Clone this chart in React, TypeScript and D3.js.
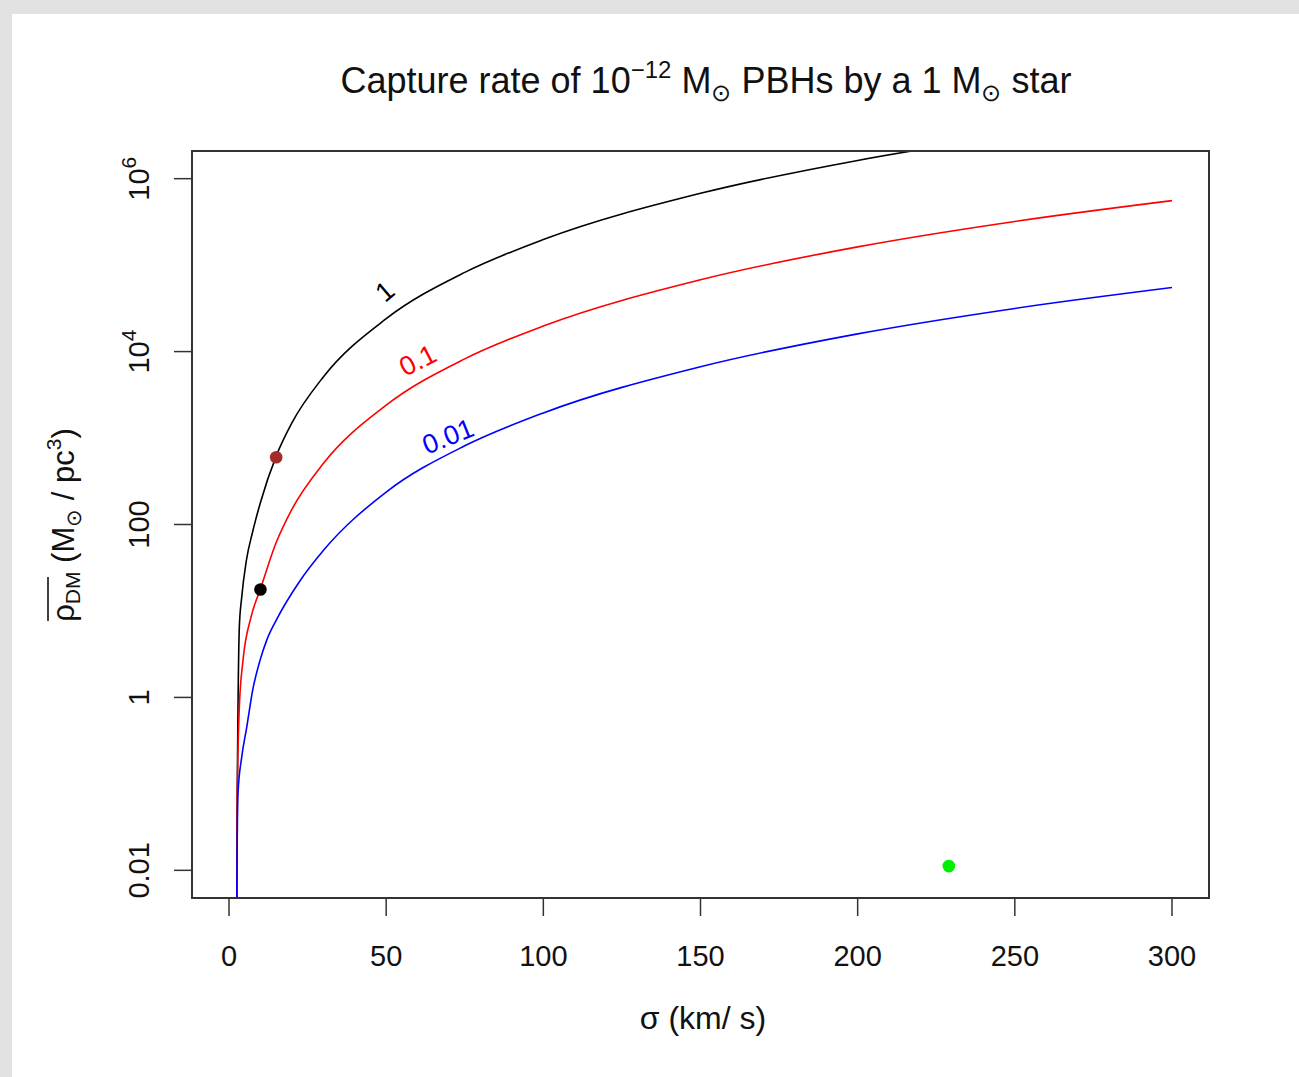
import React from "react";
import * as d3 from "d3";

// ---- data ----
const sigmaBlack = [2.4, 2.45, 2.6, 2.86, 3.28, 4, 5.5, 7.5, 10, 15, 20, 30, 50, 75, 100, 150, 200, 250, 300];
const rhoBlack = [0.0001, 0.0032, 0.063, 0.77, 6.5, 14, 38, 82, 180, 618, 1496, 5080, 23990, 82400, 197700, 677000, 1626000, 3200000, 5570000];

const sigmaRed = [2.4, 2.45, 2.64, 3.28, 4.45, 7, 10, 15, 20, 30, 50, 75, 100, 150, 200, 250, 300];
const rhoRed = [0.0001, 0.0032, 0.078, 0.77, 2.68, 8.5, 18.0, 61.8, 150, 508, 2399, 8240, 19770, 67700, 162600, 320000, 557000];

const sigmaBlue = [2.4, 2.45, 2.86, 4, 5.63, 7.5, 9.86, 12, 15, 22.6, 30, 50, 75, 100, 150, 200, 250, 300];
const rhoBlue = [0.0001, 0.0032, 0.078, 0.2, 0.45, 1.2, 2.68, 4.6, 7.8, 22.4, 50, 237, 813, 1950, 6680, 16030, 31550, 55000];

const seriesColors = ["black", "red", "blue"];
const seriesLabels = ["1", "0.1", "0.01"];
// label centre (sigma, rho) and angle
const labelSigma = [49.6, 60.1, 69.7];
const labelRho = [49400, 7870, 1040];
const labelAngle = [-40, -27, -22];

const pointSigma = [10, 15, 229];
const pointRho = [17.7, 600, 0.0112];
const pointColors = ["black", "#a52a2a", "#00ee00"];

const xTicks = [0, 50, 100, 150, 200, 250, 300];
const yTicks = [0.01, 1, 100, 1e4, 1e6];
const yTickBase = ["0.01", "1", "100", "10", "10"];
const yTickSup = ["", "", "", "4", "6"];

const W = 1299;
const H = 1077;
const L = 192, R = 1209, T = 151, B = 898;
const FONT = "'Liberation Sans', Arial, Helvetica, sans-serif";

export default function App() {
  const x = d3.scaleLinear().domain([-12, 312]).range([191.3, 1209.7]);
  const y = d3.scaleLog().domain([Math.pow(10, -2.32), Math.pow(10, 6.32)]).range([B, T]);

  const line = d3
    .line<[number, number]>()
    .x((d) => x(d[0]))
    .y((d) => y(d[1]))
    .curve(d3.curveMonotoneX);

  const series = [
    d3.zip(sigmaBlack, rhoBlack) as [number, number][],
    d3.zip(sigmaRed, rhoRed) as [number, number][],
    d3.zip(sigmaBlue, rhoBlue) as [number, number][],
  ];

  return (
    <svg
      width={W}
      height={H}
      style={{ position: "absolute", left: 0, top: 0, display: "block" }}
      fontFamily={FONT}
    >
      <defs>
        <clipPath id="plotclip">
          <rect x={L} y={T} width={R - L} height={B - T} />
        </clipPath>
      </defs>
      <rect x={0} y={0} width={W} height={H} fill="#e2e2e2" />
      <rect x={12} y={14} width={W - 12} height={H - 14} fill="#ffffff" />

      {/* title */}
      <text x={706} y={93} textAnchor="middle" fontSize={36} fill="#111">
        <tspan>Capture rate of 10</tspan>
        <tspan dy={-15} fontSize={24}>−12</tspan>
        <tspan dy={15}> M</tspan>
        <tspan dy={8} fontSize={24}>⊙</tspan>
        <tspan dy={-8}> PBHs by a 1 M</tspan>
        <tspan dy={8} fontSize={24}>⊙</tspan>
        <tspan dy={-8}> star</tspan>
      </text>

      {/* curves */}
      <g clipPath="url(#plotclip)">
        {series.map((s, i) => (
          <path key={i} d={line(s) || ""} fill="none" stroke={seriesColors[i]} strokeWidth={1.6} />
        ))}
      </g>

      {/* contour labels */}
      {seriesLabels.map((lab, i) => {
        const px = x(labelSigma[i]);
        const py = y(labelRho[i]);
        return (
          <text
            key={lab}
            x={px}
            y={py}
            textAnchor="middle"
            dominantBaseline="central"
            fontSize={27}
            fill={seriesColors[i]}
            transform={`rotate(${labelAngle[i]},${px},${py})`}
          >
            {lab}
          </text>
        );
      })}

      {/* points */}
      {pointSigma.map((s, i) => (
        <circle key={i} cx={x(s)} cy={y(pointRho[i])} r={6.3} fill={pointColors[i]} />
      ))}

      {/* box */}
      <rect x={L} y={T} width={R - L} height={B - T} fill="none" stroke="#333" strokeWidth={2} />

      {/* x axis */}
      <line x1={x(0)} x2={x(300)} y1={B} y2={B} stroke="#333" strokeWidth={2} />
      {xTicks.map((t) => (
        <g key={t}>
          <line x1={x(t)} x2={x(t)} y1={B} y2={B + 18} stroke="#333" strokeWidth={1.5} />
          <text x={x(t)} y={966} textAnchor="middle" fontSize={29} fill="#111">
            {t}
          </text>
        </g>
      ))}
      <text x={703} y={1029} textAnchor="middle" fontSize={32} fill="#111">
        σ (km/ s)
      </text>

      {/* y axis */}
      {yTicks.map((t, i) => {
        const py = y(t);
        return (
          <g key={i}>
            <line x1={L - 18} x2={L} y1={py} y2={py} stroke="#333" strokeWidth={1.5} />
            <text
              x={149}
              y={py}
              textAnchor="middle"
              fontSize={29}
              fill="#111"
              transform={`rotate(-90,149,${py})`}
            >
              <tspan>{yTickBase[i]}</tspan>
              {yTickSup[i] ? (
                <tspan dy={-13} fontSize={21}>
                  {yTickSup[i]}
                </tspan>
              ) : null}
            </text>
          </g>
        );
      })}

      {/* y title */}
      <g transform="translate(74,525) rotate(-90)">
        <text x={0} y={0} textAnchor="middle" fontSize={31} fill="#111">
          <tspan>ρ</tspan>
          <tspan dy={6} fontSize={21}>DM</tspan>
          <tspan dy={-6}> (M</tspan>
          <tspan dy={7} fontSize={21}>⊙</tspan>
          <tspan dy={-7}> / pc</tspan>
          <tspan dy={-13} fontSize={21}>3</tspan>
          <tspan dy={13}>)</tspan>
        </text>
        <line x1={-96} x2={-52} y1={-26} y2={-26} stroke="#111" strokeWidth={1.6} />
      </g>
    </svg>
  );
}
